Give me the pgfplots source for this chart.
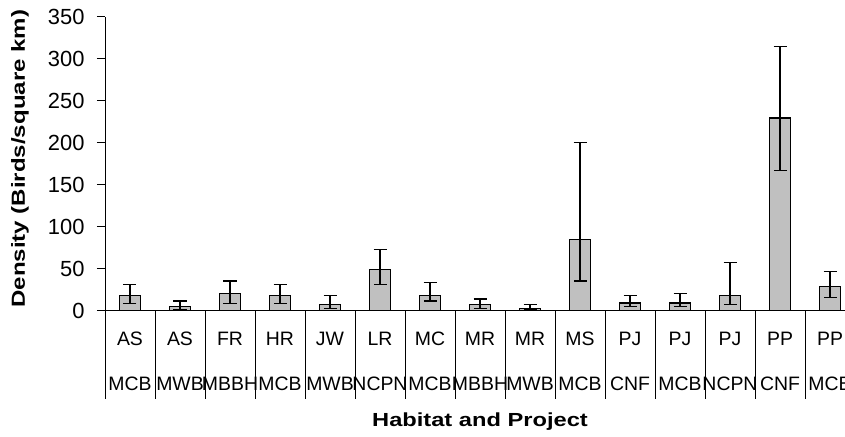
\documentclass[border=0pt]{standalone}
\usepackage{pgfplots}
\pgfplotsset{compat=1.18}
\usepackage{pgfplotstable}
\usepackage{fontspec}
\usepackage{graphicx}
\setmainfont{Liberation Sans}
\definecolor{barfill}{RGB}{192,192,192}

\pgfplotstableread{
x y ep em
0 18.3 12.7 9.5
1 4.8 6.7 3.8
2 20.2 15.1 11.4
3 18.3 12.7 9.5
4 7.1 10.8 4.3
5 49.3 23.8 18.3
6 18.3 15.0 6.8
7 7.1 6.8 4.3
8 2.4 4.7 1.4
9 84.5 116.0 49.2
10 9.2 8.7 4.0
11 9.2 11.0 4.0
12 18.3 38.8 11.2
13 229.4 85.3 62.3
14 29.0 17.4 13.1
}\datatable

\begin{document}
\begin{tikzpicture}
\begin{axis}[
  scale only axis, width=750bp, height=294bp,
  xmin=-0.5, xmax=14.5, ymin=0, ymax=350,
  axis x line=bottom, axis y line=left,
  axis line style={-, line width=0.9bp},
  tick align=outside,
  major tick length=8bp,
  ytick={0,50,...,350},
  ytick style={line width=0.9bp, black},
  xtick={-0.5,0.5,...,14.5},
  x tick label as interval,
  xtick style={line width=0.9bp, black, /pgfplots/major tick length=88bp},
  xticklabels={{AS\\MCB},{AS\\MWB},{FR\\MBBH},{HR\\MCB},{JW\\MWB},{LR\\NCPN},{MC\\MCB},{MR\\MBBH},{MR\\MWB},{MS\\MCB},{PJ\\CNF},{PJ\\MCB},{PJ\\NCPN},{PP\\CNF},{PP\\MCB}},
  xticklabel style={align=center, anchor=north, font=\fontsize{19.5}{45}\selectfont, yshift=-10bp},
  yticklabel style={font=\fontsize{22}{22}\selectfont, xshift=-9bp},
  /pgf/number format/assume math mode=true,
  every axis y label/.style={at={(axis description cs:-0.1133,0.517)}, rotate=90, anchor=center},
  every axis x label/.style={at={(axis description cs:0.5,-0.3946)}, anchor=base},
  ylabel={\fontsize{19}{19}\selectfont\bfseries\scalebox{1.27}[1]{Density (Birds/square km)}},
  xlabel={\fontsize{19}{19}\selectfont\bfseries\scalebox{1.25}[1]{Habitat and Project}},
]
\addplot[ybar, bar width=0.42, fill=barfill, draw=black, line width=1.4bp,
  error bars/.cd, y dir=both, y explicit,
  error bar style={line width=1.4bp, black},
  error mark options={rotate=90, mark size=6.5bp, line width=1.4bp, black}]
  table[x=x, y=y, y error plus=ep, y error minus=em]{\datatable};
\end{axis}
\pgfresetboundingbox
\path[use as bounding box] ([shift={(-105bp,-126.3bp)}]current axis.south west) rectangle ([shift={(740bp,310.7bp)}]current axis.south west);
\end{tikzpicture}
\end{document}
